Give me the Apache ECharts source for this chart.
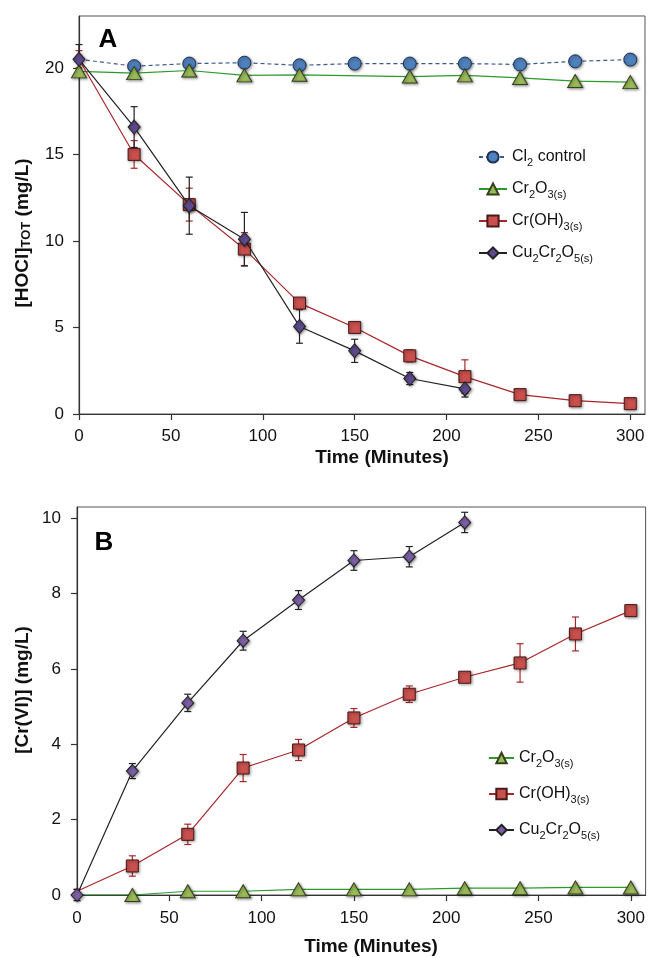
<!DOCTYPE html>
<html>
<head>
<meta charset="utf-8">
<script src="https://cdn.jsdelivr.net/npm/echarts@6/dist/echarts.min.js"></script>
<style>
  html, body { margin: 0; padding: 0; background: #fff; }
  #chart { width: 648px; height: 958px; }
</style>
</head>
<body>
<div id="chart"></div>
<script>
// Sampling times (minutes)
const timeA = [0, 30, 60, 90, 120, 150, 180, 210, 240, 270, 300];
const timeB = [0, 30, 60, 90, 120, 150, 180, 210, 240, 270, 300];

// Panel A: total free chlorine, mg/L
const hoclCl2      = [20.5, 20.1, 20.25, 20.3, 20.15, 20.25, 20.25, 20.25, 20.2, 20.38, 20.48];
const hoclCr2O3    = [19.8, 19.7, 19.85, 19.57, 19.6, null, 19.5, 19.57, 19.42, 19.24, 19.18];
const hoclCrOH3    = [20.5, 15.0, 12.1, 9.53, 6.41, 5.0, 3.36, 2.16, 1.12, 0.77, 0.6];
const hoclCrOH3Err = [0.5, 0.8, 0.95, 0.95, 0.15, 0.15, 0.35, 0.97, 0.1, 0.1, 0.1];
const hoclCu       = [20.5, 16.58, 12.04, 10.1, 5.06, 3.65, 2.05, 1.45];
const hoclCuErr    = [0.85, 1.18, 1.65, 1.55, 0.97, 0.67, 0.35, 0.47];

// Panel B: dissolved Cr(VI), mg/L
const crviCr2O3    = [0, 0, 0.1, 0.1, 0.15, 0.15, 0.15, 0.18, 0.18, 0.2, 0.2];
const crviCrOH3    = [0.1, 0.77, 1.61, 3.37, 3.85, 4.7, 5.33, 5.78, 6.16, 6.93, 7.55];
const crviCrOH3Err = [0.05, 0.27, 0.27, 0.36, 0.28, 0.25, 0.22, 0.1, 0.51, 0.45, 0.15];
const crviCu       = [0, 3.29, 5.1, 6.75, 7.83, 8.88, 8.98, 9.89];
const crviCuErr    = [0.15, 0.2, 0.23, 0.25, 0.25, 0.26, 0.27, 0.27];

// Tick values
const xTicks  = [0, 50, 100, 150, 200, 250, 300];
const yTicksA = [0, 5, 10, 15, 20];
const yTicksB = [0, 2, 4, 6, 8, 10];

const FONT = 'Arial, "Liberation Sans", Helvetica, sans-serif';

const legendLabels = {
  cl2A: 'Cl{sub|2} control',
  cr2o3A: 'Cr{sub|2}O{sub|3(s)}',
  croh3A: 'Cr(OH){sub|3(s)}',
  cuA: 'Cu{sub|2}Cr{sub|2}O{sub|5(s)}',
  cr2o3B: 'Cr{sub|2}O{sub|3(s)}',
  croh3B: 'Cr(OH){sub|3(s)}',
  cuB: 'Cu{sub|2}Cr{sub|2}O{sub|5(s)}'
};

const subRich = {
  sub: { fontSize: 11, lineHeight: 12, verticalAlign: 'bottom', fontFamily: FONT, color: '#111' }
};

function markerStyle(fill, border) {
  return {
    color: fill,
    borderColor: border,
    borderWidth: 1,
    shadowBlur: 3,
    shadowOffsetX: 1,
    shadowOffsetY: 1,
    shadowColor: 'rgba(0,0,0,0.45)'
  };
}

// The starting point of some curves sits under the t = 0 diamond; its marker is left undrawn.
function pointData(xs, ys, hideFirst) {
  return ys.map((y, i) => (hideFirst && i === 0)
    ? { value: [xs[i], y], symbolSize: 0 }
    : [xs[i], y]);
}

function lineSeries(name, idx, xs, ys, opts) {
  return {
    type: 'line',
    name: name,
    xAxisIndex: idx,
    yAxisIndex: idx,
    data: pointData(xs, ys, opts.hideFirst),
    connectNulls: true,
    symbol: opts.symbol,
    symbolSize: opts.size,
    showAllSymbol: true,
    lineStyle: { color: opts.line, width: 1.2, type: opts.dash || 'solid' },
    itemStyle: markerStyle(opts.fill, opts.border),
    emphasis: { disabled: true },
    animation: false,
    z: opts.z
  };
}

function errorSeries(idx, xs, ys, errs, color, z) {
  return {
    type: 'custom',
    xAxisIndex: idx,
    yAxisIndex: idx,
    silent: true,
    animation: false,
    z: z,
    data: ys.map((y, i) => [xs[i], y - errs[i], y + errs[i]]),
    encode: { x: 0, y: [1, 2] },
    renderItem: function (params, api) {
      const x = api.value(0);
      const lo = api.coord([x, api.value(1)]);
      const hi = api.coord([x, api.value(2)]);
      const w = 3.5;
      const st = { stroke: color, lineWidth: 1.2 };
      return {
        type: 'group',
        children: [
          { type: 'line', shape: { x1: lo[0], y1: lo[1], x2: hi[0], y2: hi[1] }, style: st },
          { type: 'line', shape: { x1: lo[0] - w, y1: lo[1], x2: lo[0] + w, y2: lo[1] }, style: st },
          { type: 'line', shape: { x1: hi[0] - w, y1: hi[1], x2: hi[0] + w, y2: hi[1] }, style: st }
        ]
      };
    }
  };
}

function xAxis(idx, labelMargin) {
  return {
    type: 'value',
    gridIndex: idx,
    min: 0,
    max: 308,
    interval: 50,
    axisLine: { show: true, lineStyle: { color: '#333', width: 1.2 } },
    axisTick: { show: true, inside: false, length: 6, lineStyle: { color: '#333', width: 1.2 }, customValues: xTicks },
    axisLabel: { fontSize: 17, fontFamily: FONT, color: '#111', margin: labelMargin, customValues: xTicks },
    splitLine: { show: false }
  };
}

function yAxis(idx, max, step, ticks, labelMargin) {
  return {
    type: 'value',
    gridIndex: idx,
    min: 0,
    max: max,
    interval: step,
    axisLine: { show: true, onZero: false, lineStyle: { color: '#333', width: 1.2 } },
    axisTick: { show: true, inside: false, length: 6, lineStyle: { color: '#333', width: 1.2 }, customValues: ticks },
    axisLabel: { fontSize: 17, fontFamily: FONT, color: '#111', margin: labelMargin, customValues: ticks },
    splitLine: { show: false }
  };
}

function legend(names, left, top, gap, itemW, itemH) {
  return {
    orient: 'vertical',
    left: left,
    top: top,
    padding: 0,
    itemGap: gap,
    itemWidth: itemW,
    itemHeight: itemH,
    selectedMode: false,
    data: names,
    formatter: n => legendLabels[n],
    textStyle: {
      fontSize: 16,
      fontFamily: FONT,
      color: '#111',
      lineHeight: 22,
      rich: subRich
    }
  };
}

const titleStyle = {
  fontSize: 19,
  fontWeight: 'bold',
  fontFamily: FONT,
  fill: '#111',
  align: 'center',
  verticalAlign: 'middle'
};

const titleRich = {
  sub: { fontSize: 13, fontWeight: 'bold', lineHeight: 14, verticalAlign: 'bottom', fontFamily: FONT, fill: '#111' }
};

const option = {
  backgroundColor: '#fff',
  animation: false,
  grid: [
    { left: 79, right: 3, top: 16, height: 398, show: true, borderColor: '#555', borderWidth: 1 },
    { left: 77, right: 1, top: 507, height: 388, show: true, borderColor: '#555', borderWidth: 1 }
  ],
  xAxis: [xAxis(0, 14), xAxis(1, 15)],
  yAxis: [yAxis(0, 23, 5, yTicksA, 15), yAxis(1, 10.3, 2, yTicksB, 16)],
  legend: [
    legend(['cl2A', 'cr2o3A', 'croh3A', 'cuA'], 478, 146, 10, 28, 14),
    legend(['cr2o3B', 'croh3B', 'cuB'], 488, 747, 14, 25, 13)
  ],
  graphic: [
    { type: 'text', x: 108, y: 40, style: { text: 'A', fontSize: 26, fontWeight: 'bold', fontFamily: FONT, fill: '#000', align: 'center', verticalAlign: 'middle' } },
    { type: 'text', x: 104, y: 543, style: { text: 'B', fontSize: 26, fontWeight: 'bold', fontFamily: FONT, fill: '#000', align: 'center', verticalAlign: 'middle' } },
    { type: 'text', x: 382, y: 458, style: Object.assign({ text: 'Time (Minutes)' }, titleStyle) },
    { type: 'text', x: 371, y: 947, style: Object.assign({ text: 'Time (Minutes)' }, titleStyle) },
    { type: 'text', x: 23, y: 233, rotation: Math.PI / 2, style: Object.assign({ text: '[HOCl]{sub|TOT} (mg/L)', rich: titleRich }, titleStyle) },
    { type: 'text', x: 23, y: 690, rotation: Math.PI / 2, style: Object.assign({ text: '[Cr(VI)] (mg/L)' }, titleStyle) }
  ],
  series: [
    // Panel A
    lineSeries('cl2A', 0, timeA, hoclCl2, { symbol: 'circle', size: 13, line: '#3a5a8f', dash: [4, 3], fill: '#4f81bd', border: '#1e3350', z: 2, hideFirst: true }),
    lineSeries('cr2o3A', 0, timeA, hoclCr2O3, { symbol: 'triangle', size: [15, 13], line: '#2a9a2a', fill: '#9bbb59', border: '#33401c', z: 3 }),
    errorSeries(0, timeA, hoclCrOH3, hoclCrOH3Err, '#a8282a', 1),
    errorSeries(0, timeA.slice(0, hoclCu.length), hoclCu, hoclCuErr, '#222', 1),
    lineSeries('croh3A', 0, timeA, hoclCrOH3, { symbol: 'rect', size: 12, line: '#a8262a', fill: '#c9504d', border: '#4a1a1a', z: 4, hideFirst: true }),
    lineSeries('cuA', 0, timeA.slice(0, hoclCu.length), hoclCu, { symbol: 'diamond', size: [12, 14], line: '#222', fill: '#5e4a8e', border: '#222', z: 5 }),
    // Panel B
    lineSeries('cr2o3B', 1, timeB, crviCr2O3, { symbol: 'triangle', size: [15, 13], line: '#2a9a2a', fill: '#9bbb59', border: '#33401c', z: 3, hideFirst: true }),
    errorSeries(1, timeB, crviCrOH3, crviCrOH3Err, '#a8282a', 1),
    errorSeries(1, timeB.slice(0, crviCu.length), crviCu, crviCuErr, '#222', 1),
    lineSeries('croh3B', 1, timeB, crviCrOH3, { symbol: 'rect', size: 12, line: '#a8262a', fill: '#c9504d', border: '#4a1a1a', z: 4, hideFirst: true }),
    lineSeries('cuB', 1, timeB.slice(0, crviCu.length), crviCu, { symbol: 'diamond', size: [12, 13], line: '#222', fill: '#7d5fa8', border: '#222', z: 5 })
  ]
};

const chart = echarts.init(document.getElementById('chart'), null, { renderer: 'canvas' });
chart.setOption(option);
</script>
</body>
</html>
